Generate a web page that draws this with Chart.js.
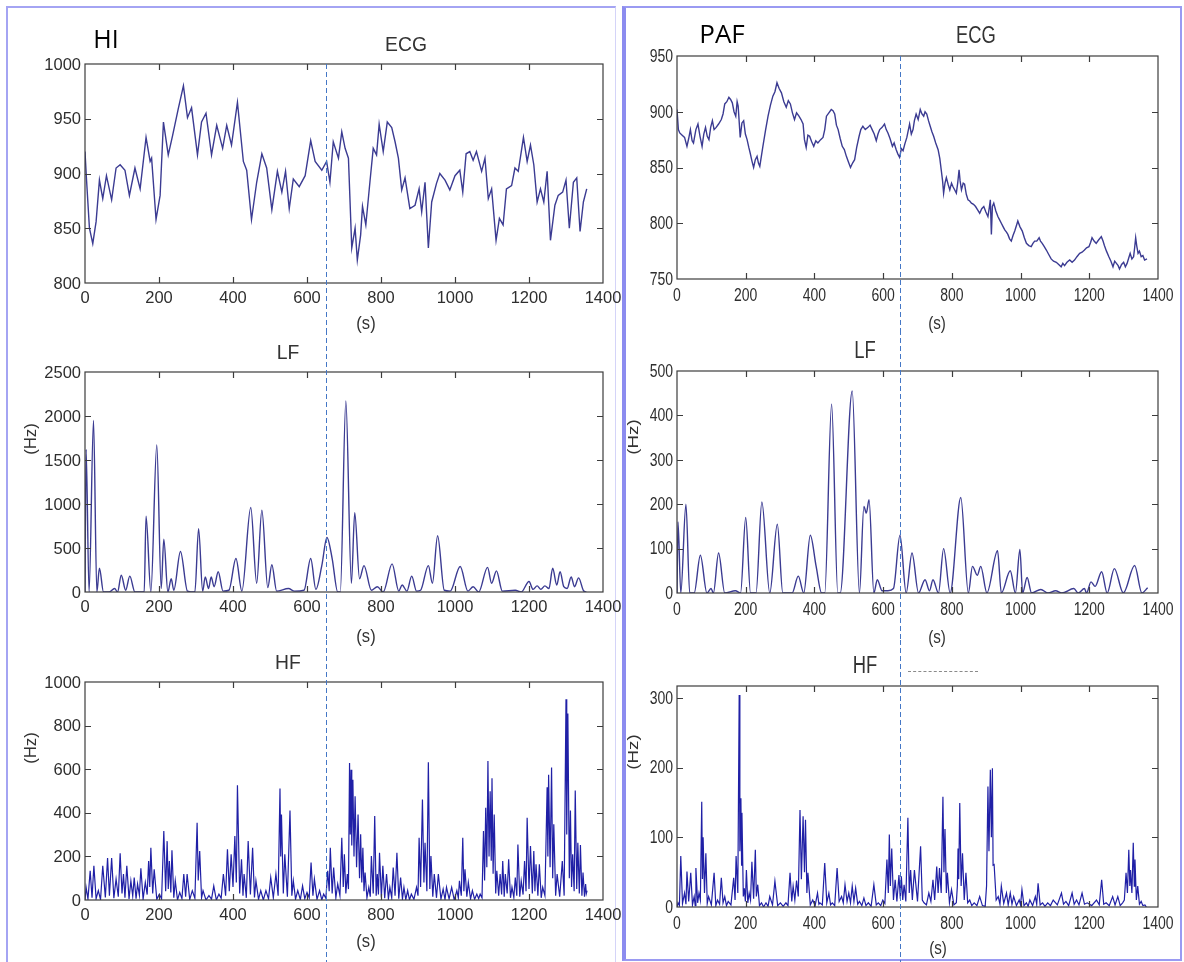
<!DOCTYPE html>
<html>
<head>
<meta charset="utf-8">
<title>HRV: HI vs PAF</title>
<script src="https://cdn.jsdelivr.net/npm/chart.js@4.4.1/dist/chart.umd.min.js"></script>
<style>
  body { margin: 0; background: #fff; }
  #page { position: relative; width: 1184px; height: 962px; overflow: hidden; background: #fff; }
  canvas { position: absolute; }
  .panel { position: absolute; box-sizing: border-box; }
  .t { position: absolute; white-space: nowrap; color: #333; line-height: 1;
       font-family: 'Liberation Sans', Arial, sans-serif; }
  .l { transform: translate(-50%, -50%) scaleX(0.92); }
  .r { transform: translate(-50%, -50%) scaleX(0.8); }
  .hzl { transform: translate(-50%, -50%) rotate(-90deg) scaleX(1.05); }
  .hzr { transform: translate(-50%, -50%) rotate(-90deg) scaleX(1.1) scaleY(0.85); }
  .big { font-family: 'Open Sans', sans-serif; color: #000; transform: translate(-50%, -50%); }
</style>
</head>
<body>
<div id="page">
  <div class="panel" style="left:6px;top:6px;width:610px;height:962px;border:2px solid #a4a4f3;border-bottom:none;border-right:1px solid #d4d4f8;"></div>
  <div class="panel" style="left:622px;top:6px;width:560px;height:955px;border:2px solid #9a9af2;border-left:4px solid #8c8cef;"></div>

  <canvas id="hiEcg"></canvas>
  <canvas id="hiLf"></canvas>
  <canvas id="hiHf"></canvas>
  <canvas id="pafEcg"></canvas>
  <canvas id="pafLf"></canvas>
  <canvas id="pafHf"></canvas>

  <div class="t big" style="left:106px;top:38px;font-size:25px;">HI</div>
  <div class="t big" style="left:722px;top:33px;font-size:26px;">PAF</div>

  <div class="t l" style="left:406px;top:43px;font-size:21px;">ECG</div>
  <div class="t l" style="left:288px;top:351px;font-size:21px;">LF</div>
  <div class="t l" style="left:288px;top:661px;font-size:21px;">HF</div>
  <div class="t r" style="left:976px;top:35px;font-size:23px;">ECG</div>
  <div class="t r" style="left:865px;top:350px;font-size:23px;">LF</div>
  <div class="t r" style="left:865px;top:665px;font-size:23px;">HF</div>
  <div style="position:absolute;left:908px;top:671px;width:70px;border-top:1px dashed #8a8a8a;"></div>

  <div class="t l" style="left:366px;top:323px;font-size:18px;">(s)</div>
  <div class="t l" style="left:366px;top:636px;font-size:18px;">(s)</div>
  <div class="t l" style="left:366px;top:941px;font-size:18px;">(s)</div>
  <div class="t r" style="left:937px;top:322px;font-size:19px;">(s)</div>
  <div class="t r" style="left:937px;top:636px;font-size:19px;">(s)</div>
  <div class="t r" style="left:938px;top:947px;font-size:19px;">(s)</div>

  <div class="t hzl" style="left:31px;top:439px;font-size:16px;">(Hz)</div>
  <div class="t hzl" style="left:31px;top:748px;font-size:16px;">(Hz)</div>
  <div class="t hzr" style="left:633px;top:437px;font-size:17px;">(Hz)</div>
  <div class="t hzr" style="left:633px;top:752px;font-size:17px;">(Hz)</div>
</div>

<script>
// time axis (s) and the onset marker
const xTicks = [0, 200, 400, 600, 800, 1000, 1200, 1400];
const onset = 650;

// ---- HI ----
const hiEcgTicks = [800, 850, 900, 950, 1000];
const hiLfTicks = [0, 500, 1000, 1500, 2000, 2500];
const hiHfTicks = [0, 200, 400, 600, 800, 1000];

const hiEcg = [
  [0,920],[4,895],[12,850],[21,836],[30,856],[39,894],[48,877],[58,898],[72,876],[84,905],
  [95,908],[108,903],[120,880],[135,905],[149,886],[165,933],[176,911],[180,914],[192,858],[203,880],
  [212,947],[225,917],[237,935],[252,959],[266,980],[277,951],[288,960],[304,917],[315,947],[327,955],
  [342,917],[356,944],[372,923],[383,944],[396,926],[412,965],[428,911],[437,903],[450,858],[464,892],
  [478,918],[491,905],[505,867],[520,902],[532,883],[542,902],[552,868],[563,895],[579,888],[595,898],
  [610,930],[622,911],[640,903],[653,911],[662,892],[671,929],[685,914],[694,938],[703,923],[712,914],
  [721,832],[730,850],[736,821],[745,844],[750,870],[759,853],[770,892],[779,923],[788,917],[795,945],
  [806,920],[817,947],[829,942],[838,929],[847,914],[856,885],[865,896],[878,868],[892,871],[903,886],
  [910,865],[919,892],[928,832],[937,874],[950,891],[959,900],[973,894],[986,885],[1000,898],[1013,903],
  [1021,883],[1030,918],[1040,920],[1049,912],[1058,920],[1072,902],[1081,914],[1090,877],[1099,886],[1111,839],
  [1120,859],[1130,853],[1139,886],[1153,889],[1162,905],[1171,902],[1185,933],[1195,911],[1204,926],[1213,908],
  [1222,874],[1231,886],[1240,874],[1249,902],[1258,839],[1270,871],[1279,880],[1291,883],[1300,894],[1309,850],
  [1320,892],[1329,896],[1338,847],[1347,874],[1356,886]
];

const hiLf = [
  [0,0],[3,1620],[11,0],[23,1950],[32,0],[39,270],[50,0],[65,0],[80,40],[88,0],
  [98,190],[110,20],[121,180],[135,0],[160,0],[165,860],[178,0],[194,1670],[206,40],[213,600],
  [224,0],[233,150],[240,20],[258,460],[277,10],[297,0],[307,720],[318,10],[325,170],[334,40],
  [341,170],[349,60],[360,230],[373,10],[389,20],[408,380],[424,10],[448,960],[464,100],[478,930],
  [494,50],[505,310],[518,10],[550,40],[566,10],[592,20],[610,380],[624,30],[640,300],[654,620],
  [668,380],[683,0],[690,0],[705,2170],[720,100],[729,900],[742,150],[754,300],[774,20],[790,60],
  [806,0],[830,320],[848,10],[857,80],[870,10],[883,180],[896,10],[907,20],[928,300],[939,100],
  [953,640],[971,20],[987,10],[1014,290],[1035,10],[1049,60],[1064,0],[1088,280],[1099,100],[1112,240],
  [1128,10],[1163,20],[1179,0],[1200,120],[1211,30],[1222,70],[1232,30],[1243,70],[1254,40],[1264,270],
  [1275,80],[1284,230],[1294,60],[1303,40],[1314,170],[1323,60],[1334,160],[1348,10],[1355,0]
];

const hiHf = [
  [0,0],[3,58],[8,4],[14,134],[19,10],[24,157],[30,6],[36,43],[42,2],[48,157],
  [55,12],[61,192],[66,20],[72,192],[78,8],[84,96],[90,15],[95,214],[100,30],[104,119],
  [108,10],[113,157],[119,5],[124,88],[129,18],[133,103],[138,6],[142,73],[147,22],[151,146],
  [157,4],[163,81],[168,25],[172,179],[175,60],[178,240],[183,30],[187,141],[194,3],[201,27],
  [207,5],[213,316],[218,40],[222,270],[225,50],[228,179],[232,35],[235,228],[240,10],[244,88],
  [250,0],[256,35],[262,6],[267,119],[272,15],[276,119],[283,2],[290,43],[297,8],[303,354],
  [306,90],[310,225],[315,10],[319,43],[327,0],[335,20],[342,4],[348,64],[355,0],[362,27],
  [368,8],[374,119],[380,20],[385,233],[390,40],[395,210],[400,60],[405,293],[409,80],[412,526],
  [418,30],[423,187],[427,20],[430,119],[436,10],[441,270],[447,25],[453,240],[458,12],[462,88],
  [469,3],[475,43],[482,0],[489,43],[496,5],[502,103],[509,10],[516,119],[522,20],[527,511],
  [529,200],[531,392],[536,30],[540,210],[547,15],[554,410],[559,20],[563,88],[569,4],[575,43],
  [582,2],[588,65],[594,6],[600,35],[606,10],[611,172],[616,20],[620,96],[627,3],[634,43],
  [640,0],[645,27],[651,8],[656,134],[660,40],[663,240],[668,30],[672,149],[678,10],[683,73],
  [689,20],[694,286],[698,60],[701,210],[705,30],[709,119],[712,50],[715,628],[717,300],[719,597],
  [721,250],[724,552],[727,200],[730,476],[734,150],[738,392],[742,100],[745,301],[748,80],[751,240],
  [754,40],[757,126],[762,10],[767,58],[771,15],[774,202],[779,30],[783,385],[787,20],[790,119],
  [793,25],[796,217],[801,12],[805,157],[810,8],[815,119],[820,5],[824,58],[829,10],[833,149],
  [838,20],[843,217],[848,6],[853,103],[858,4],[862,58],[867,2],[872,43],[877,0],[882,27],
  [889,3],[896,58],[900,20],[903,286],[907,60],[912,461],[916,80],[919,263],[924,40],[928,632],
  [932,50],[935,202],[940,15],[944,119],[950,10],[955,119],[962,4],[968,50],[973,2],[977,58],
  [984,5],[991,58],[998,0],[1005,43],[1009,10],[1012,88],[1017,20],[1021,286],[1024,40],[1027,141],
  [1032,15],[1036,81],[1042,5],[1047,43],[1053,3],[1059,27],[1064,6],[1068,27],[1073,10],[1077,316],
  [1080,90],[1083,423],[1086,150],[1089,638],[1092,200],[1095,499],[1098,180],[1100,559],[1103,120],[1106,392],
  [1110,30],[1113,134],[1118,20],[1122,119],[1126,25],[1129,179],[1133,15],[1136,119],[1141,30],[1145,187],
  [1150,10],[1154,58],[1159,12],[1163,103],[1167,20],[1170,255],[1175,15],[1179,88],[1184,25],[1188,179],
  [1192,40],[1195,377],[1200,50],[1204,248],[1209,30],[1213,225],[1216,40],[1219,164],[1224,20],[1228,164],
  [1233,10],[1237,58],[1243,20],[1249,517],[1251,200],[1253,575],[1257,150],[1261,608],[1264,100],[1267,347],
  [1272,20],[1276,119],[1283,15],[1290,179],[1295,20],[1300,921],[1302,300],[1305,856],[1309,100],[1312,410],
  [1315,60],[1318,210],[1322,40],[1325,502],[1329,50],[1332,263],[1336,30],[1339,252],[1343,20],[1346,126],
  [1350,15],[1353,73],[1355,30],[1357,43]
];

// ---- PAF ----
const pafEcgTicks = [750, 800, 850, 900, 950];
const pafLfTicks = [0, 100, 200, 300, 400, 500];
const pafHfTicks = [0, 100, 200, 300];

const pafEcg = [
  [0,902],[4,884],[8,881],[15,879],[22,877],[29,869],[34,876],[39,884],[44,874],[48,872],
  [55,884],[61,889],[67,878],[73,869],[78,880],[83,886],[88,878],[93,875],[98,886],[103,892],
  [108,884],[114,886],[121,889],[129,893],[134,898],[139,907],[145,909],[151,913],[156,911],[161,908],
  [166,900],[171,896],[175,909],[178,905],[184,877],[189,890],[194,892],[199,880],[204,875],[209,868],
  [213,863],[218,856],[223,850],[228,857],[233,860],[237,854],[241,851],[250,869],[258,884],[265,896],
  [272,906],[279,914],[285,918],[291,926],[297,921],[304,917],[311,909],[318,904],[324,910],[330,907],
  [336,899],[342,893],[348,899],[355,896],[361,893],[367,889],[371,875],[376,868],[381,879],[386,878],
  [392,873],[398,869],[404,874],[410,872],[418,875],[425,877],[430,884],[435,896],[442,899],[449,902],
  [454,901],[459,898],[464,888],[469,884],[475,876],[481,869],[487,866],[493,860],[499,855],[505,850],
  [511,854],[517,857],[523,868],[530,878],[535,884],[541,887],[548,884],[556,886],[562,888],[568,884],
  [574,880],[580,874],[585,880],[590,884],[597,886],[604,889],[609,884],[614,881],[620,876],[627,869],
  [632,872],[638,866],[643,862],[648,859],[653,867],[658,865],[663,871],[669,877],[673,883],[677,889],
  [682,880],[687,884],[691,892],[696,898],[702,893],[708,902],[713,898],[718,896],[722,900],[727,898],
  [732,892],[737,887],[742,882],[747,878],[753,872],[760,866],[765,858],[769,848],[773,838],[776,827],
  [780,836],[784,841],[789,835],[794,830],[799,836],[803,833],[808,830],[813,827],[817,836],[821,848],
  [824,838],[828,830],[833,836],[837,835],[842,826],[847,821],[852,820],[857,818],[863,817],[869,815],
  [875,812],[881,809],[887,813],[893,815],[899,810],[905,806],[909,814],[912,821],[915,790],[918,815],
  [922,818],[928,811],[934,806],[939,803],[944,800],[949,797],[954,794],[959,792],[963,790],[968,786],
  [973,784],[978,789],[983,793],[988,798],[992,802],[998,797],[1005,793],[1011,787],[1017,782],[1024,780],
  [1031,779],[1036,782],[1041,784],[1047,784],[1054,787],[1058,784],[1063,782],[1069,779],[1075,776],[1082,772],
  [1089,768],[1096,766],[1104,765],[1111,763],[1118,761],[1123,764],[1128,762],[1135,765],[1143,767],[1150,765],
  [1157,767],[1164,770],[1172,773],[1179,774],[1186,776],[1192,778],[1199,779],[1204,783],[1208,787],[1214,784],
  [1220,782],[1227,785],[1235,788],[1240,784],[1244,780],[1250,775],[1257,770],[1263,766],[1269,761],[1274,766],
  [1279,764],[1284,762],[1288,759],[1294,763],[1300,765],[1305,761],[1310,764],[1315,769],[1319,773],[1324,768],
  [1329,770],[1332,778],[1335,787],[1338,780],[1342,773],[1346,775],[1351,770],[1356,771],[1361,767],[1368,768]
];

const pafLf = [
  [0,0],[3,160],[11,0],[26,200],[37,0],[50,0],[68,85],[87,0],[99,10],[106,0],
  [121,90],[139,0],[170,5],[185,0],[200,170],[214,0],[230,0],[247,205],[270,0],[292,155],
  [308,0],[335,0],[353,38],[369,0],[388,130],[405,60],[421,0],[430,0],[450,425],[468,0],
  [475,0],[510,455],[531,0],[544,195],[551,180],[559,210],[573,0],[583,30],[597,5],[614,5],
  [630,10],[649,130],[667,0],[684,90],[703,0],[722,30],[735,5],[745,30],[761,0],[776,100],
  [795,0],[826,215],[848,0],[860,60],[874,40],[884,60],[902,0],[933,95],[944,0],[970,50],
  [985,0],[998,98],[1006,0],[1019,35],[1032,0],[1059,8],[1080,0],[1102,5],[1120,0],[1155,10],
  [1168,0],[1186,10],[1192,0],[1205,25],[1217,15],[1236,48],[1252,0],[1273,55],[1299,0],[1332,62],
  [1353,0],[1370,12]
];

const pafHf = [
  [0,0],[3,6],[7,2],[11,73],[16,5],[22,20],[26,4],[29,51],[34,8],[40,49],
  [45,3],[50,15],[53,2],[55,56],[60,6],[64,20],[68,10],[72,151],[74,40],[76,100],
  [80,20],[84,77],[88,5],[92,15],[100,3],[108,49],[113,2],[118,10],[124,4],[129,42],
  [134,6],[139,15],[144,2],[149,8],[157,3],[165,42],[169,10],[172,73],[177,20],[181,304],
  [183,80],[186,156],[188,60],[189,135],[193,15],[196,27],[199,8],[202,53],[206,6],[210,20],
  [214,10],[218,65],[223,12],[228,82],[231,15],[235,32],[240,2],[246,6],[252,0],[259,6],
  [265,1],[270,15],[278,3],[285,37],[293,2],[301,6],[309,1],[317,6],[323,2],[329,49],
  [334,8],[338,30],[343,10],[348,38],[353,15],[358,139],[362,40],[367,130],[371,50],[374,125],
  [378,20],[381,49],[388,3],[395,10],[402,2],[409,20],[413,4],[416,6],[423,3],[430,63],
  [436,6],[442,20],[447,3],[452,6],[459,2],[466,56],[472,8],[479,15],[484,6],[489,32],
  [495,8],[500,20],[505,6],[510,30],[515,8],[520,27],[526,4],[531,8],[538,2],[544,13],
  [550,2],[557,6],[565,1],[573,32],[580,3],[586,6],[593,2],[599,10],[605,5],[611,68],
  [615,20],[618,104],[621,30],[625,84],[630,10],[635,39],[640,8],[646,46],[650,12],[653,44],
  [657,10],[661,32],[666,8],[672,128],[676,20],[680,53],[685,10],[691,53],[700,8],[709,87],
  [714,10],[719,6],[726,3],[733,20],[739,8],[745,39],[750,10],[756,58],[760,20],[764,56],
  [769,20],[774,158],[777,50],[780,112],[784,20],[787,49],[793,6],[799,25],[806,3],[813,6],
  [816,30],[818,84],[820,40],[823,149],[827,30],[831,77],[836,10],[841,49],[846,6],[852,10],
  [858,2],[865,6],[873,2],[881,15],[889,2],[897,1],[901,30],[905,173],[908,80],[912,197],
  [915,100],[918,199],[920,60],[923,61],[929,10],[935,15],[940,4],[944,30],[951,5],[959,20],
  [964,3],[970,20],[975,4],[980,15],[988,2],[996,10],[1000,3],[1004,25],[1010,2],[1017,6],
  [1022,1],[1027,10],[1035,2],[1043,15],[1047,4],[1051,34],[1057,3],[1064,6],[1071,1],[1079,6],
  [1087,2],[1095,10],[1107,3],[1119,20],[1125,4],[1132,8],[1140,2],[1150,20],[1156,4],[1163,10],
  [1170,3],[1179,20],[1186,4],[1194,6],[1207,2],[1221,10],[1229,3],[1236,39],[1242,4],[1249,6],
  [1258,2],[1268,15],[1275,3],[1283,15],[1290,2],[1297,6],[1302,10],[1307,49],[1311,20],[1315,82],
  [1318,30],[1320,53],[1324,20],[1328,92],[1331,30],[1333,68],[1337,10],[1341,30],[1346,4],[1351,8],
  [1356,2],[1362,3],[1366,0]
];

const tickFont = "'Liberation Sans', Arial, sans-serif";

// matlab-like axes box with inward ticks on all four sides
const frame = {
  id: 'frame',
  afterDatasetsDraw(chart) {
    const { ctx, chartArea: a, scales: { x, y } } = chart;
    ctx.save();
    ctx.strokeStyle = '#3c3c3c';
    ctx.lineWidth = 1.2;
    ctx.strokeRect(a.left, a.top, a.right - a.left, a.bottom - a.top);
    ctx.beginPath();
    x.ticks.forEach(t => {
      const px = Math.round(x.getPixelForValue(t.value)) + 0.5;
      if (px <= a.left + 2 || px >= a.right - 2) return;
      ctx.moveTo(px, a.bottom); ctx.lineTo(px, a.bottom - 6);
      ctx.moveTo(px, a.top); ctx.lineTo(px, a.top + 6);
    });
    y.ticks.forEach(t => {
      const py = Math.round(y.getPixelForValue(t.value)) + 0.5;
      if (py <= a.top + 2 || py >= a.bottom - 2) return;
      ctx.moveTo(a.left, py); ctx.lineTo(a.left + 6, py);
      ctx.moveTo(a.right, py); ctx.lineTo(a.right - 6, py);
    });
    ctx.stroke();
    ctx.restore();
  }
};

// tick labels, drawn by hand so they don't push the plot area around
const tickLabels = {
  id: 'tickLabels',
  afterDraw(chart, args, opts) {
    const { ctx, chartArea: a, scales: { x, y } } = chart;
    const put = (txt, px, py, align) => {
      ctx.save();
      ctx.translate(px, py);
      ctx.scale(opts.squeeze, 1);
      ctx.textAlign = align;
      ctx.fillText(txt, 0, 0);
      ctx.restore();
    };
    ctx.save();
    ctx.fillStyle = '#2e2e2e';
    ctx.font = opts.size + 'px ' + tickFont;
    ctx.textBaseline = 'middle';
    x.ticks.forEach(t => put(String(t.value), x.getPixelForValue(t.value), a.bottom + opts.dy, 'center'));
    y.ticks.forEach(t => put(String(t.value), a.left - 4, y.getPixelForValue(t.value) + 1, 'right'));
    ctx.restore();
  }
};

// dashed onset line, runs down through the whole column
const onsetLine = {
  id: 'onsetLine',
  afterDatasetsDraw(chart, args, opts) {
    const { ctx, chartArea: a, scales: { x } } = chart;
    const px = Math.round(x.getPixelForValue(onset)) + 0.5;
    ctx.save();
    ctx.strokeStyle = '#4477c6';
    ctx.lineWidth = 1;
    ctx.setLineDash([5, 3]);
    ctx.beginPath();
    ctx.moveTo(px, opts.fromTop ? a.top : 0);
    ctx.lineTo(px, chart.height);
    ctx.stroke();
    ctx.restore();
  }
};

function plot(id, series, yTicks, box, area, style) {
  const cv = document.getElementById(id);
  cv.width = box[2];
  cv.height = box[3];
  cv.style.left = box[0] + 'px';
  cv.style.top = box[1] + 'px';
  return new Chart(cv, {
    type: 'line',
    data: {
      datasets: [{
        data: series.map(p => ({ x: p[0], y: p[1] })),
        borderColor: style.color,
        borderWidth: style.width,
        pointRadius: 0,
        fill: false,
        tension: style.smooth ? 0.4 : 0,
        cubicInterpolationMode: style.smooth ? 'monotone' : 'default'
      }]
    },
    options: {
      responsive: false,
      animation: false,
      devicePixelRatio: 1,
      layout: {
        autoPadding: false,
        padding: { left: 0, bottom: 0, top: area[1] - box[1], right: box[0] + box[2] - area[2] }
      },
      plugins: {
        legend: { display: false },
        tooltip: { enabled: false },
        onsetLine: { fromTop: !!style.top },
        tickLabels: style.labels
      },
      scales: {
        x: {
          type: 'linear', min: 0, max: 1400,
          afterBuildTicks: s => { s.ticks = xTicks.map(v => ({ value: v })); },
          afterFit: s => { s.height = box[1] + box[3] - area[3]; },
          grid: { display: false, drawTicks: false },
          border: { display: false },
          ticks: { display: false }
        },
        y: {
          min: yTicks[0], max: style.yMax || yTicks[yTicks.length - 1],
          afterBuildTicks: s => { s.ticks = yTicks.map(v => ({ value: v })); },
          afterFit: s => { s.width = area[0] - box[0]; },
          grid: { display: false, drawTicks: false },
          border: { display: false },
          ticks: { display: false }
        }
      }
    },
    plugins: [frame, onsetLine, tickLabels]
  });
}

const hiLabels = { size: 16.5, squeeze: 1, dy: 15 };
const pafLabels = { size: 17.5, squeeze: 0.8, dy: 17 };
const lineBlue = '#3b3b92';
const hfBlue = '#2020a6';

plot('hiEcg', hiEcg, hiEcgTicks, [10, 30, 611, 300], [85, 64, 603, 283],
  { color: lineBlue, width: 1.4, top: true, labels: hiLabels });
plot('hiLf', hiLf, hiLfTicks, [10, 330, 611, 310], [85, 372, 603, 592],
  { color: lineBlue, width: 1.4, smooth: true, labels: hiLabels });
plot('hiHf', hiHf, hiHfTicks, [10, 640, 611, 322], [85, 682, 603, 900],
  { color: hfBlue, width: 1.2, labels: hiLabels });

plot('pafEcg', pafEcg, pafEcgTicks, [627, 30, 552, 300], [677, 56, 1158, 279],
  { color: lineBlue, width: 1.4, top: true, labels: pafLabels });
plot('pafLf', pafLf, pafLfTicks, [627, 330, 552, 310], [677, 371, 1158, 593],
  { color: lineBlue, width: 1.4, smooth: true, labels: pafLabels });
plot('pafHf', pafHf, pafHfTicks, [627, 640, 552, 322], [677, 686, 1158, 907],
  { color: hfBlue, width: 1.2, yMax: 317, labels: pafLabels });
</script>
</body>
</html>
